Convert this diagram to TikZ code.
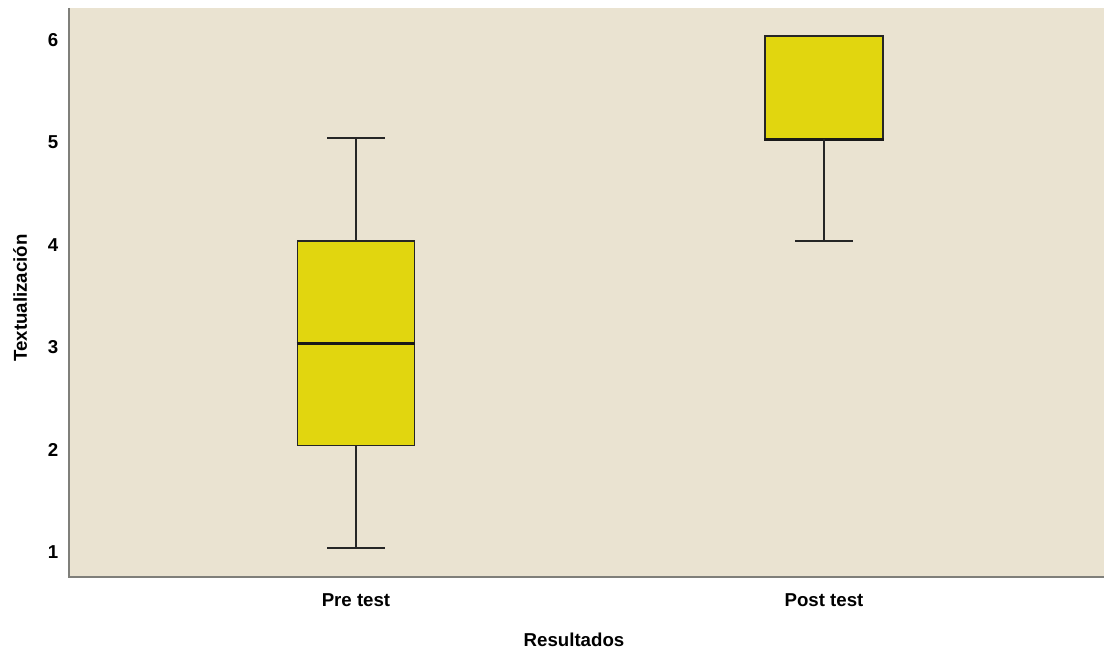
\documentclass[tikz,border=0pt]{standalone}
\usepackage{fontspec}
\setmainfont{Liberation Sans}
\usetikzlibrary{positioning}

\definecolor{plotbg}{HTML}{EAE3D1}
\definecolor{boxfill}{HTML}{E1D60F}
\definecolor{axisgray}{HTML}{7F7F7A}

\tikzset{
    boxstyle/.style={draw=black!85,line width=1.2pt,fill=boxfill},
    whisker/.style={draw=black!85,line width=1.5pt},
    medianline/.style={draw=black!90,line width=2pt},
    ticklabel/.style={anchor=east,yshift=-3pt,font=\fontsize{14}{16}\selectfont\bfseries},
    catlabel/.style={font=\fontsize{14}{16}\selectfont\bfseries},
}

\begin{document}
\begin{tikzpicture}[x=0.75pt,y=0.75pt]
\useasboundingbox (0,0) rectangle (1104,653);
% plot area
\fill[plotbg] (69,76) rectangle (1104,645);
\draw[axisgray,line width=1.2pt] (69,645) -- (69,76) -- (1104,76);

\begin{scope}[yshift=1.95pt,y=76.8pt]
    % tick labels
    \foreach \v in {1,...,6}
        \node[ticklabel] (tick\v) at (63,\v) {\v};

    % Pre test
    \coordinate (pre-max) at (356,5);
    \coordinate (pre-min) at (356,1);
    \node[boxstyle,minimum width=87.75pt,minimum height=153.6pt,inner sep=0pt] (pre-box) at (356,3) {};
    \draw[medianline] (pre-box.west) -- (pre-box.east);
    \draw[whisker] (pre-box.north) -- (pre-max);
    \draw[whisker] (pre-box.south) -- (pre-min);
    \draw[whisker] ([xshift=-21.75pt]pre-max) -- ([xshift=21.75pt]pre-max);
    \draw[whisker] ([xshift=-21.75pt]pre-min) -- ([xshift=21.75pt]pre-min);

    % Post test
    \coordinate (post-min) at (824,4);
    \node[boxstyle,minimum width=88.5pt,minimum height=76.8pt,inner sep=0pt] (post-box) at (824,5.5) {};
    \draw[medianline] (post-box.south west) -- (post-box.south east);
    \draw[whisker] (post-box.south) -- (post-min);
    \draw[whisker] ([xshift=-21.75pt]post-min) -- ([xshift=21.75pt]post-min);
\end{scope}

% axis labels
\node[catlabel] (pre-label) at (356,53) {Pre test};
\node[catlabel] (post-label) at (824,53) {Post test};
\node[catlabel] (x-title) at (574,13) {Resultados};
\node[catlabel,rotate=90] (y-title) at (20,355) {Textualización};
\end{tikzpicture}
\end{document}
